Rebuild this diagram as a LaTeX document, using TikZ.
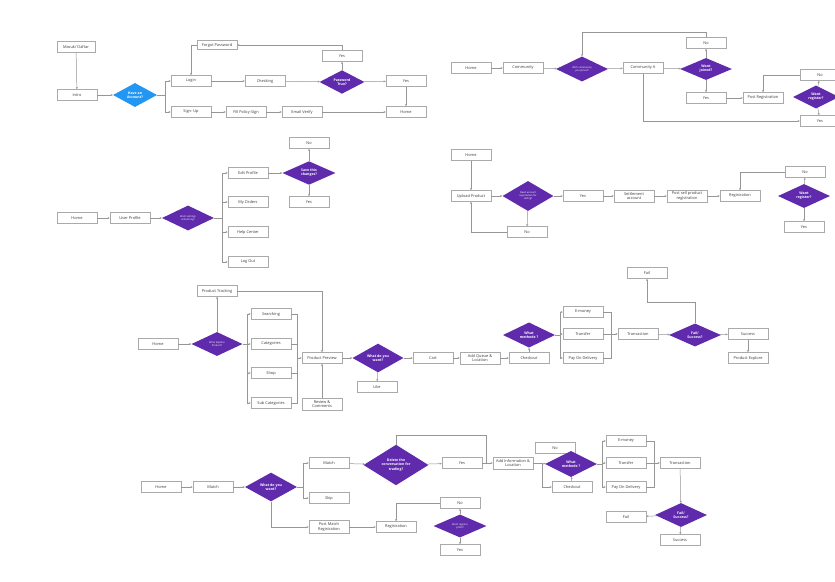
\documentclass[tikz,border=0pt]{standalone}
\usepackage{fontspec}
\setmainfont{Open Sans}
\usetikzlibrary{shapes.geometric,arrows.meta}
\definecolor{purp}{RGB}{95,42,172}
\definecolor{bluec}{RGB}{33,150,243}
\definecolor{boxc}{RGB}{170,170,170}
\definecolor{linec}{RGB}{150,150,150}
\definecolor{txtc}{RGB}{60,60,60}
\newcommand{\fsbox}{\fontsize{3.9}{4.4}\selectfont}
\newcommand{\fsdia}{\fontsize{3.5}{4.1}\selectfont\bfseries}
\newcommand{\fstiny}{\fontsize{2.5}{3.0}\selectfont}
\tikzset{
  box/.style={draw=boxc, fill=white, line width=0.5pt, minimum width=40, minimum height=11, inner sep=0.5pt, font=\fsbox, text=txtc, align=center},
  dia/.style={diamond, fill=purp, inner sep=0pt, minimum width=52, minimum height=24, font=\fsdia, text=white, align=center},
  tinydia/.style={dia, font=\fstiny},
  bdia/.style={dia, fill=bluec, minimum width=44},
  line/.style={draw=linec, line width=0.5pt},
  conn/.style={line, -{Stealth[length=2.2pt,width=2pt]}}
}
\begin{document}
\begin{tikzpicture}[x=1pt,y=-1pt]
\useasboundingbox (0,0) rectangle (835,581);
\fill[white] (0,0) rectangle (835,581);
% ---------- Row 1 left ----------
\node[box,minimum width=38] (md) at (76,47) {Masuk/ Daftar};
\node[box] (intro) at (77,95) {Intro};
\node[bdia] (hav) at (135,95) {Have an\\Account?};
\node[box] (login) at (191,81) {Login};
\node[box,minimum height=9] (fp) at (217,45) {Forgot Password};
\node[box] (chk) at (265,81) {Checking};
\node[dia,minimum width=45,minimum height=22] (pt) at (342,82) {Password\\True?};
\node[box] (yt) at (342,56) {Yes};
\node[box] (yr) at (406,81) {Yes};
\node[box] (home1) at (406,112) {Home};
\node[box] (su) at (191,112) {Sign- Up};
\node[box] (fill) at (246,112) {Fill Policy-Sign};
\node[box] (ev) at (302,112) {Email Verify};
\coordinate (b1) at (165,95);
\draw[conn] (md) -- (intro);
\draw[conn] (intro) -- (hav);
\draw[line] (hav.east) -- (b1);
\draw[conn] (b1) |- (login);
\draw[conn] (b1) |- (su);
\draw[conn] (login) -- (chk);
\draw[conn] (chk) -- (pt);
\draw[conn] (pt) -- (yr);
\draw[conn] (pt) -- (yt);
\draw[conn] (yt) |- (fp);
\draw[conn] (fp.west) -| (login.north);
\draw[conn] (yr) -- (home1);
\draw[conn] (su) -- (fill);
\draw[conn] (fill) -- (ev);
\draw[conn] (ev) -- (home1);
% ---------- Row 1 right ----------
\node[box] (home2) at (471,68) {Home};
\node[box] (comm) at (523,68) {Community};
\node[tinydia,minimum height=22] (wc) at (582,69) {Wich community\\you joined?};
\node[box] (ca) at (643,68) {Community A};
\node[box] (no2) at (706,43) {No};
\node[dia,minimum height=22] (wj) at (706,69) {Want\\joined?};
\node[box] (yes2) at (706,98) {Yes};
\node[box] (pr) at (763,98) {Post Registration};
\node[box] (no3) at (820,75) {No};
\node[dia,minimum width=46,minimum height=23] (wr1) at (816,97) {Want\\register?};
\node[box] (yes3) at (820,121) {Yes};
\draw[conn] (home2) -- (comm);
\draw[conn] (comm) -- (wc);
\draw[conn] (wc) -- (ca);
\draw[conn] (no2.north) -- ++(0,-5) -| (wc.north);
\draw[conn] (ca) -- (wj);
\draw[conn] (wj) -- (no2);
\draw[conn] (wj) -- (yes2);
\draw[conn] (yes2) -- (pr);
\draw[conn] (no3.west) -| (pr.north);
\draw[conn] (wr1) -- (no3);
\draw[conn] (wr1) -- (yes3);
\draw[conn] (ca.south) |- (yes3.west);
% ---------- Row 2 left ----------
\node[box] (home3) at (77,218) {Home};
\node[box] (up) at (130,218) {User Profile};
\node[tinydia,minimum height=25] (ws) at (188,218) {Want settings\\something?};
\coordinate (b3) at (222,218);
\node[box] (ep) at (248,173) {Edit Profile};
\node[box] (mo) at (248,202) {My Orders};
\node[box] (hc) at (248,232) {Help Center};
\node[box] (lo) at (248,262) {Log Out};
\node[dia,minimum width=53,minimum height=23] (sc) at (309,173) {Save this\\changes?};
\node[box] (no4) at (309,143) {No};
\node[box] (yes4) at (309,202) {Yes};
\draw[conn] (home3) -- (up);
\draw[conn] (up) -- (ws);
\draw[line] (ws.east) -- (b3);
\draw[conn] (b3) |- (ep);
\draw[conn] (b3) |- (mo);
\draw[conn] (b3) |- (hc);
\draw[conn] (b3) |- (lo);
\draw[conn] (ep) -- (sc);
\draw[conn] (sc) -- (no4);
\draw[conn] (sc) -- (yes4);
% ---------- Row 2 right ----------
\node[box] (home4) at (471,155) {Home};
\node[box] (upl) at (471,196) {Upload Product};
\node[tinydia,minimum width=51,minimum height=30] (nar) at (528,196) {Need account\\registration for\\selling?};
\node[box] (yes5) at (583,196) {Yes};
\node[box] (no5) at (527,232) {No};
\node[box,minimum height=12] (sa) at (634,196) {Settlement\\account};
\node[box,minimum height=12] (psp) at (687,196) {Post sell product\\registration};
\node[box] (reg1) at (740,196) {Registration};
\node[box] (no6) at (805,172) {No};
\node[dia] (wr2) at (804,196) {Want\\register?};
\node[box] (yes6) at (804,227) {Yes};
\draw[conn] (home4) -- (upl);
\draw[conn] (upl) -- (nar);
\draw[conn] (nar) -- (yes5);
\draw[conn] (yes5) -- (sa);
\draw[conn] (sa) -- (psp);
\draw[conn] (psp) -- (reg1);
\draw[conn] (nar) -- (no5);
\draw[conn] (no5.west) -| (upl.south);
\draw[conn] (no6.west) -| (reg1.north);
\draw[conn] (wr2) -- (no6);
\draw[conn] (wr2) -- (yes6);
% ---------- Row 3 ----------
\node[box] (pt3) at (217,291) {Product Tracking};
\node[box] (home5) at (158,344) {Home};
\node[tinydia,minimum width=51] (wep) at (217,344) {What Explore\\Product?};
\coordinate (b5) at (247,344);
\node[box] (srch) at (271,314) {Searching};
\node[box] (cat) at (271,344) {Categories};
\node[box] (shop) at (271,373) {Shop};
\node[box] (subc) at (271,403) {Sub Categories};
\coordinate (m5) at (297,358);
\node[box] (pp) at (322,358) {Product Preview};
\node[box,minimum height=12] (rc) at (322,404) {Review \&\\Comments};
\node[dia,minimum width=51] (wdy) at (378,358) {What do you\\want?};
\node[box] (like) at (377,387) {Like};
\node[box] (cart) at (433,358) {Cart};
\node[box,minimum height=12] (aql) at (480,358) {Add Queue \&\\Location};
\node[box] (co1) at (529,358) {Checkout};
\node[dia] (wm1) at (529,335) {What\\methode ?};
\coordinate (b6) at (560,335);
\node[box] (em1) at (583,312) {E-money};
\node[box] (tr1) at (583,334) {Transfer};
\node[box] (pod1) at (583,358) {Pay On Delivery};
\coordinate (m6) at (611,334);
\node[box] (tx1) at (638,334) {Transaction};
\node[dia,minimum height=23] (fs1) at (695,335) {Fail/\\Success?};
\node[box] (fail1) at (647,273) {Fail};
\node[box] (suc1) at (748,334) {Success};
\node[box] (pe) at (748,358) {Product Explore};
\draw[conn] (home5) -- (wep);
\draw[conn] (wep) -- (pt3);
\draw[conn] (pt3.east) -| (pp.north);
\draw[line] (wep.east) -- (b5);
\draw[conn] (b5) |- (srch);
\draw[conn] (b5) |- (cat);
\draw[conn] (b5) |- (shop);
\draw[conn] (b5) |- (subc);
\draw[line] (srch.east) -| (m5);
\draw[line] (cat.east) -| (m5);
\draw[line] (shop.east) -| (m5);
\draw[line] (subc.east) -| (m5);
\draw[conn] (m5) -- (pp);
\draw[conn] (rc) -- (pp);
\draw[conn] (pp) -- (wdy);
\draw[conn] (wdy) -- (like);
\draw[conn] (wdy) -- (cart);
\draw[conn] (cart) -- (aql);
\draw[conn] (aql) -- (co1);
\draw[conn] (co1) -- (wm1);
\draw[line] (wm1.east) -- (b6);
\draw[conn] (b6) |- (em1);
\draw[conn] (b6) |- (tr1);
\draw[conn] (b6) |- (pod1);
\draw[line] (em1.east) -| (m6);
\draw[line] (pod1.east) -| (m6);
\draw[conn] (tr1) -- (tx1);
\draw[conn] (tx1) -- (fs1);
\draw[conn] (fs1) -- (suc1);
\draw[conn] (suc1) -- (pe);
\draw[conn] (fs1.north) -- ++(0,-21) -| (fail1.south);
% ---------- Row 4 ----------
\node[box] (home6) at (161,487) {Home};
\node[box] (match) at (213,487) {Match};
\node[dia,minimum width=52,minimum height=23] (wdy2) at (271,487) {What do you\\want?};
\coordinate (b7) at (303,487);
\node[box] (m2) at (329,463) {Match};
\node[box] (skip) at (329,498) {Skip};
\node[box,minimum height=13] (pmr) at (329,527) {Post Match\\Registration};
\node[dia,minimum width=65,minimum height=27] (del) at (396,465) {Delete the\\conversation for\\trading?};
\node[box] (yes7) at (462,463) {Yes};
\node[box,minimum height=12] (ail) at (513,463) {Add Information \&\\Location};
\coordinate (j7) at (486,463);
\node[box] (reg2) at (396,527) {Registration};
\node[box] (no7) at (460,503) {No};
\node[tinydia,minimum width=53,minimum height=23] (wrp) at (460,526) {Want register\\profil?};
\node[box] (yes8) at (460,550) {Yes};
\node[box] (no8) at (555,448) {No};
\node[dia,minimum height=26] (wm2) at (571,464) {What\\methode ?};
\node[box] (co2) at (572,487) {Checkout};
\coordinate (b8) at (602,464);
\node[box] (em2) at (626,441) {E-money};
\node[box] (tr2) at (626,463) {Transfer};
\node[box] (pod2) at (626,487) {Pay On Delivery};
\coordinate (m8) at (654,463);
\node[box] (tx2) at (680,463) {Transaction};
\node[dia] (fs2) at (681,515) {Fail/\\Success?};
\node[box] (fail2) at (626,517) {Fail};
\node[box] (suc2) at (680,540) {Success};
\draw[conn] (home6) -- (match);
\draw[conn] (match) -- (wdy2);
\draw[line] (wdy2.east) -- (b7);
\draw[conn] (b7) |- (m2);
\draw[conn] (b7) |- (skip);
\draw[conn] (wdy2.south) |- (pmr.west);
\draw[conn] (m2) -- (del);
\draw[conn] (del) -- (yes7);
\draw[conn] (yes7) -- (ail);
\draw[line] (del.north) -- ++(0,-9.5) -| (j7);
\draw[conn] (pmr) -- (reg2);
\draw[conn] (no7.west) -| (reg2.north);
\draw[conn] (wrp) -- (no7);
\draw[conn] (wrp) -- (yes8);
\draw[conn] (ail) -- (wm2);
\draw[conn] (ail.east) -- ++(9,0) |- (co2.west);
\draw[conn] (co2) -- (wm2);
\draw[line] (wm2.east) -- (b8);
\draw[conn] (b8) |- (em2);
\draw[conn] (b8) |- (tr2);
\draw[conn] (b8) |- (pod2);
\draw[line] (em2.east) -| (m8);
\draw[line] (pod2.east) -| (m8);
\draw[conn] (tr2) -- (tx2);
\draw[conn] (tx2) -- (fs2);
\draw[conn] (fs2) -- (fail2);
\draw[conn] (fs2) -- (suc2);
\end{tikzpicture}
\end{document}
